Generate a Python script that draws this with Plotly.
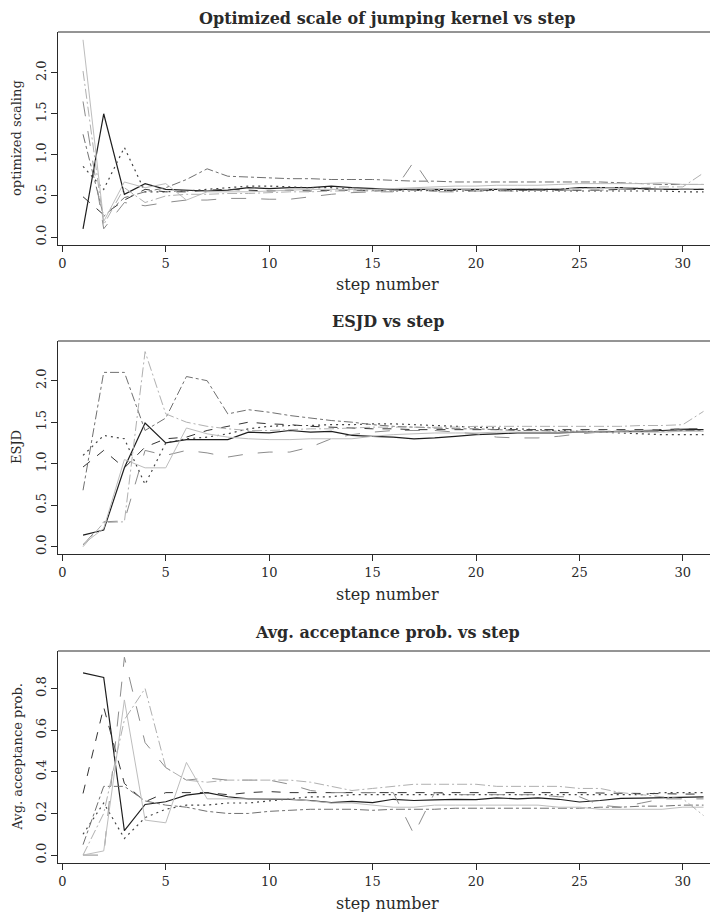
import plotly.graph_objects as go

steps = list(range(1, 32))

# Panel 1: optimized scaling
scale_A = [0.10, 1.50, 0.52, 0.65, 0.58, 0.57, 0.56, 0.57, 0.60, 0.59, 0.60, 0.60, 0.62, 0.60, 0.59, 0.58, 0.58, 0.58, 0.58, 0.58, 0.58, 0.58, 0.58, 0.58, 0.60, 0.60, 0.60, 0.59, 0.58, 0.58, 0.58]
scale_B = [0.49, 0.27, 0.45, 0.58, 0.55, 0.55, 0.57, 0.58, 0.57, 0.56, 0.57, 0.56, 0.57, 0.57, 0.56, 0.57, 0.57, 0.56, 0.57, 0.57, 0.57, 0.57, 0.57, 0.57, 0.57, 0.57, 0.58, 0.58, 0.58, 0.58, 0.58]
scale_C = [0.86, 0.58, 1.09, 0.55, 0.55, 0.56, 0.58, 0.60, 0.62, 0.62, 0.61, 0.60, 0.60, 0.58, 0.57, 0.56, 0.56, 0.57, 0.56, 0.56, 0.57, 0.56, 0.56, 0.56, 0.56, 0.56, 0.56, 0.56, 0.56, 0.55, 0.55]
scale_D = [1.25, 0.25, 0.48, 0.55, 0.60, 0.70, 0.83, 0.74, 0.73, 0.72, 0.71, 0.71, 0.70, 0.70, 0.70, 0.69, 0.68, 0.68, 0.67, 0.67, 0.67, 0.67, 0.67, 0.67, 0.67, 0.67, 0.66, 0.65, 0.64, 0.64, 0.64]
scale_E = [1.65, 0.10, 0.42, 0.38, 0.42, 0.45, 0.45, 0.47, 0.47, 0.46, 0.46, 0.49, 0.52, 0.54, 0.55, 0.55, 0.92, 0.55, 0.55, 0.56, 0.56, 0.56, 0.57, 0.57, 0.57, 0.57, 0.58, 0.58, 0.58, 0.58, 0.58]
scale_F = [2.40, 0.19, 0.67, 0.60, 0.65, 0.45, 0.55, 0.55, 0.55, 0.56, 0.57, 0.58, 0.58, 0.58, 0.58, 0.59, 0.60, 0.61, 0.62, 0.62, 0.63, 0.63, 0.63, 0.64, 0.65, 0.65, 0.65, 0.65, 0.66, 0.64, 0.64]
scale_G = [2.02, 0.15, 0.60, 0.42, 0.50, 0.52, 0.52, 0.53, 0.53, 0.54, 0.55, 0.55, 0.56, 0.56, 0.56, 0.57, 0.57, 0.58, 0.58, 0.58, 0.58, 0.59, 0.59, 0.59, 0.59, 0.60, 0.60, 0.60, 0.61, 0.61, 0.78]

# Panel 2: ESJD
esjd_A = [0.14, 0.20, 0.95, 1.49, 1.25, 1.29, 1.29, 1.29, 1.38, 1.37, 1.40, 1.38, 1.39, 1.34, 1.33, 1.32, 1.30, 1.31, 1.33, 1.35, 1.36, 1.37, 1.37, 1.37, 1.38, 1.38, 1.39, 1.39, 1.40, 1.41, 1.41]
esjd_B = [0.96, 1.16, 0.95, 1.20, 1.30, 1.32, 1.40, 1.45, 1.50, 1.48, 1.47, 1.45, 1.44, 1.43, 1.42, 1.42, 1.41, 1.41, 1.41, 1.41, 1.41, 1.41, 1.41, 1.41, 1.41, 1.41, 1.41, 1.41, 1.41, 1.42, 1.42]
esjd_C = [1.10, 1.34, 1.30, 0.75, 1.25, 1.30, 1.32, 1.36, 1.42, 1.45, 1.46, 1.46, 1.47, 1.47, 1.48, 1.48, 1.47, 1.46, 1.45, 1.44, 1.43, 1.42, 1.41, 1.40, 1.39, 1.38, 1.37, 1.36, 1.35, 1.35, 1.35]
esjd_D = [0.68, 2.10, 2.10, 1.40, 1.55, 2.05, 2.00, 1.60, 1.65, 1.62, 1.58, 1.55, 1.52, 1.50, 1.47, 1.45, 1.44, 1.43, 1.42, 1.42, 1.41, 1.40, 1.40, 1.39, 1.39, 1.39, 1.39, 1.39, 1.39, 1.40, 1.40]
esjd_E = [0.02, 0.30, 0.31, 1.16, 1.10, 1.16, 1.13, 1.08, 1.12, 1.14, 1.14, 1.20, 1.30, 1.35, 1.38, 1.40, 1.40, 1.40, 1.38, 1.36, 1.32, 1.31, 1.31, 1.33, 1.36, 1.38, 1.39, 1.40, 1.41, 1.42, 1.43]
esjd_F = [0.03, 0.22, 1.05, 0.95, 0.95, 1.43, 1.36, 1.32, 1.30, 1.29, 1.29, 1.30, 1.30, 1.30, 1.33, 1.35, 1.36, 1.37, 1.37, 1.37, 1.38, 1.38, 1.38, 1.38, 1.38, 1.38, 1.38, 1.38, 1.38, 1.39, 1.39]
esjd_G = [0.00, 0.29, 0.30, 2.35, 1.60, 1.50, 1.45, 1.42, 1.40, 1.40, 1.41, 1.42, 1.42, 1.43, 1.44, 1.44, 1.44, 1.44, 1.44, 1.45, 1.45, 1.45, 1.45, 1.45, 1.45, 1.45, 1.45, 1.46, 1.46, 1.47, 1.63]

# Panel 3: average acceptance probability
acc_A = [0.875, 0.853, 0.117, 0.243, 0.256, 0.288, 0.300, 0.280, 0.270, 0.270, 0.268, 0.262, 0.252, 0.258, 0.252, 0.268, 0.262, 0.265, 0.268, 0.266, 0.275, 0.270, 0.275, 0.268, 0.255, 0.262, 0.272, 0.274, 0.276, 0.278, 0.280]
acc_B = [0.296, 0.710, 0.344, 0.256, 0.300, 0.300, 0.300, 0.290, 0.300, 0.305, 0.300, 0.300, 0.300, 0.300, 0.300, 0.303, 0.303, 0.303, 0.303, 0.302, 0.302, 0.302, 0.302, 0.300, 0.300, 0.298, 0.298, 0.296, 0.295, 0.293, 0.293]
acc_C = [0.10, 0.25, 0.08, 0.18, 0.22, 0.24, 0.24, 0.25, 0.25, 0.26, 0.27, 0.28, 0.28, 0.29, 0.29, 0.29, 0.29, 0.29, 0.29, 0.29, 0.29, 0.29, 0.29, 0.29, 0.29, 0.29, 0.29, 0.29, 0.30, 0.30, 0.30]
acc_D = [0.05, 0.33, 0.33, 0.26, 0.24, 0.23, 0.21, 0.20, 0.20, 0.21, 0.215, 0.22, 0.22, 0.22, 0.215, 0.22, 0.22, 0.22, 0.225, 0.225, 0.225, 0.225, 0.225, 0.225, 0.225, 0.23, 0.23, 0.235, 0.235, 0.24, 0.24]
acc_E = [0.00, 0.00, 0.95, 0.54, 0.42, 0.36, 0.37, 0.36, 0.36, 0.36, 0.34, 0.31, 0.30, 0.30, 0.30, 0.30, 0.10, 0.30, 0.29, 0.29, 0.29, 0.29, 0.29, 0.28, 0.28, 0.24, 0.23, 0.25, 0.27, 0.27, 0.27]
acc_F = [0.00, 0.02, 0.745, 0.168, 0.155, 0.445, 0.27, 0.27, 0.27, 0.27, 0.27, 0.26, 0.25, 0.25, 0.24, 0.23, 0.23, 0.24, 0.24, 0.24, 0.24, 0.24, 0.24, 0.23, 0.23, 0.22, 0.22, 0.22, 0.22, 0.23, 0.23]
acc_G = [0.00, 0.20, 0.65, 0.80, 0.42, 0.36, 0.35, 0.36, 0.36, 0.36, 0.36, 0.35, 0.33, 0.31, 0.32, 0.33, 0.34, 0.34, 0.34, 0.34, 0.33, 0.33, 0.33, 0.33, 0.32, 0.32, 0.30, 0.29, 0.28, 0.27, 0.19]

panels = [
    ("Optimized scale of jumping kernel vs step", "optimized scaling",
     [scale_A, scale_B, scale_C, scale_D, scale_E, scale_F, scale_G],
     [0.0, 0.5, 1.0, 1.5, 2.0], ["0.0", "0.5", "1.0", "1.5", "2.0"], [-0.097, 2.495]),
    ("ESJD vs step", "ESJD",
     [esjd_A, esjd_B, esjd_C, esjd_D, esjd_E, esjd_F, esjd_G],
     [0.0, 0.5, 1.0, 1.5, 2.0], ["0.0", "0.5", "1.0", "1.5", "2.0"], [-0.088, 2.478]),
    ("Avg. acceptance prob. vs step", "Avg. acceptance prob.",
     [acc_A, acc_B, acc_C, acc_D, acc_E, acc_F, acc_G],
     [0.0, 0.2, 0.4, 0.6, 0.8], ["0.0", "0.2", "0.4", "0.6", "0.8"], [-0.038, 0.98]),
]

x_ticks = [0, 5, 10, 15, 20, 25, 30]
styles = [
    ("#1e1e1e", "solid", 1.2),
    ("#333333", "dash", 1.0),
    ("#444444", "2px,4px", 1.2),
    ("#707070", "dashdot", 1.0),
    ("#8c8c8c", "longdash", 1.0),
    ("#bdbdbd", "solid", 1.0),
    ("#b0b0b0", "10px,3px,2px,3px", 1.0),
]

# The page body has an 8px margin, so the figure is 8px smaller and all
# reference pixel positions are shifted by OFF.
OFF = 8
W, H = 718 - OFF, 912 - OFF
boxes = [(32, 245), (341, 554), (651, 863)]  # reference pixel (top, bottom)
x_left = 58 - OFF
FONT = "DejaVu Serif"
INK = "#2a2a2a"

fig = go.Figure()
layout = dict(width=W, height=H, margin=dict(l=0, r=0, t=0, b=0),
              paper_bgcolor="white", plot_bgcolor="white", showlegend=False,
              font=dict(family=FONT, color=INK))
annotations = []
shapes = []

for i, (title, ylab, series, yt, ytl, yr) in enumerate(panels):
    n = i + 1
    xa = "xaxis" if n == 1 else f"xaxis{n}"
    ya = "yaxis" if n == 1 else f"yaxis{n}"
    xr = "x" if n == 1 else f"x{n}"
    yrf = "y" if n == 1 else f"y{n}"
    top, bot = boxes[i]
    top -= OFF
    bot -= OFF
    dom_y = [1 - bot / H, 1 - top / H]
    for s, (col, dash, w) in zip(series, styles):
        fig.add_trace(go.Scatter(x=steps, y=s, mode="lines", xaxis=xr, yaxis=yrf,
                                 line=dict(color=col, dash=dash, width=w),
                                 hoverinfo="skip"))
    layout[xa] = dict(domain=[x_left / W, 1], range=[-0.21, 31.7], anchor=yrf,
                      tickvals=x_ticks, ticktext=[str(t) for t in x_ticks],
                      ticks="outside", ticklen=6, tickcolor=INK, showline=True,
                      linecolor=INK, linewidth=1, showgrid=False, zeroline=False,
                      tickfont=dict(family=FONT, size=13, color=INK))
    layout[ya] = dict(domain=dom_y, range=yr, anchor=xr, tickvals=yt, ticktext=ytl,
                      ticks="outside", ticklen=6, tickcolor=INK, showline=True,
                      linecolor=INK, linewidth=1, showgrid=False, zeroline=False,
                      tickangle=-90, tickfont=dict(family=FONT, size=13, color=INK))
    shapes.append(dict(type="line", xref=f"{xr} domain", yref=f"{yrf} domain",
                       x0=0, x1=1, y0=1, y1=1, line=dict(color=INK, width=1)))
    cx = (x_left + (W - x_left) / 2) / W
    if i == 0:
        annotations.append(dict(text=f"<b>{title}</b>", xref="paper", yref="paper",
                                x=cx, y=1.0, showarrow=False,
                                xanchor="center", yanchor="top", borderpad=0,
                                font=dict(family=FONT, size=16, color=INK)))
    else:
        annotations.append(dict(text=f"<b>{title}</b>", xref="paper", yref="paper",
                                x=cx, y=1 - (top - 19) / H,
                                showarrow=False, xanchor="center", yanchor="middle",
                                font=dict(family=FONT, size=16, color=INK)))
    annotations.append(dict(text="step number", xref="paper", yref="paper",
                            x=cx, y=1 - (bot + 40) / H,
                            showarrow=False, xanchor="center", yanchor="middle",
                            font=dict(family=FONT, size=16, color=INK)))
    annotations.append(dict(text=ylab, xref="paper", yref="paper",
                            x=0.0, y=1 - ((top + bot) / 2) / H, textangle=-90,
                            showarrow=False, xanchor="left", yanchor="middle",
                            borderpad=0,
                            font=dict(family=FONT, size=13, color=INK)))

layout["annotations"] = annotations
layout["shapes"] = shapes
fig.update_layout(**layout)
fig.write_html("out.html")
